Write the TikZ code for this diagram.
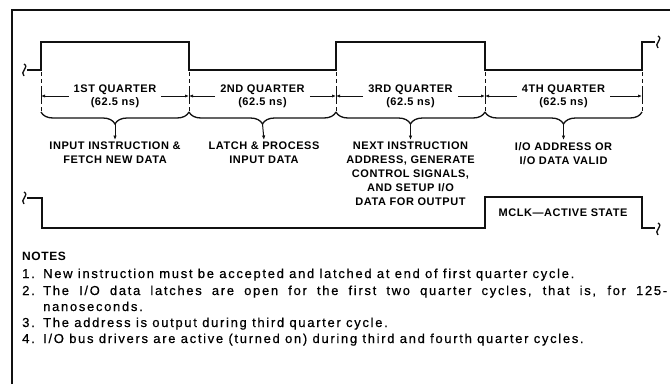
\documentclass[tikz,border=0pt]{standalone}
\usepackage{fontspec}
\setmainfont{Liberation Sans}
\newfontfamily\capfont[LetterSpace=5]{Liberation Sans}
\newfontfamily\notefont[LetterSpace=13,FakeBold=0.5]{Liberation Sans}
\usepackage{tikz}
\usetikzlibrary{arrows.meta,positioning,decorations.pathreplacing}
\definecolor{Ink}{HTML}{111111}
\tikzset{
  frame/.style={draw=Ink,line width=1.4pt},
  wave/.style={draw=Ink,line width=2.4pt,line join=miter},
  brk/.pic={\draw[draw=Ink,line width=1.3pt] (0,-6) .. controls (6,-3) and (-5,2) .. (0,6);},
  tickline/.style={draw=Ink,line width=.8pt,dash pattern=on 4pt off 3pt},
  tickmark/.style={draw=Ink,line width=1pt},
  dimline/.style={-{Latex[length=4pt,width=3.2pt]},draw=Ink,line width=1pt},
  bracebar/.style={draw=Ink,line width=1.3pt,decorate,decoration={brace,mirror,amplitude=12pt}},
  pointer/.style={-{Latex[length=4.5pt,width=3.5pt]},draw=Ink,line width=1pt},
  qlabel/.style={font=\capfont\bfseries\fontsize{11}{13}\selectfont,align=center,inner xsep=5pt,inner ysep=1pt},
  desc/.style={font=\capfont\bfseries\fontsize{11}{14}\selectfont,align=center,inner sep=2pt,anchor=north},
  head/.style={font=\capfont\bfseries\fontsize{12}{14}\selectfont,anchor=west,inner sep=0pt},
  note/.style={font=\notefont\fontsize{13}{16}\selectfont,anchor=base west,inner sep=0pt}
}
\begin{document}
\begin{tikzpicture}[x=1pt,y=-1pt]
  \fill[white] (0,0) rectangle (670,384);
  \useasboundingbox (0,0) rectangle (670,384);
  \draw[frame] (12,384) -- (12,10) -- (670,10);

  % clock and quarter boundaries
  \draw[wave] (27,70) -- (41,70) |- (189,42) |- (336,70) |- (485,42) |- (642,70) |- (655,42);
  \pic at (24,70) {brk};
  \pic at (658,42) {brk};
  \foreach \x [count=\i from 0] in {41,189,336,485,642} {
    \draw[tickline] (\x,72) -- (\x,112);
    \draw[tickmark] (\x,89) -- (\x,104);
    \coordinate (e\i) at (\x,96);
  }

  \foreach \a/\b/\n/\t in {41/189/1/1ST,189/336/2/2ND,336/485/3/3RD,485/642/4/4TH} {
    \node[qlabel] (q\n) at ({(\a+\b)/2},96) {\t\ QUARTER\\(62.5 ns)};
    \draw[dimline] (q\n.west) -- (q\n.west -| e\the\numexpr\n-1\relax);
    \draw[dimline] (q\n.east) -- (q\n.east -| e\n);
    \draw[bracebar] (\a,112) -- (\b,112);
    \coordinate (b\n) at ({(\a+\b)/2},124);
  }

  \node[desc] (d1) at (115,140) {INPUT INSTRUCTION \&\\FETCH NEW DATA};
  \node[desc] (d2) at (264,140) {LATCH \& PROCESS\\INPUT DATA};
  \node[desc] (d3) at (410.5,140) {NEXT INSTRUCTION\\ADDRESS, GENERATE\\CONTROL SIGNALS,\\AND SETUP I/O\\DATA FOR OUTPUT};
  \node[desc] (d4) at (563.5,140) {I/O ADDRESS OR\\I/O DATA VALID};
  \foreach \n in {1,...,4} \draw[pointer] (b\n) -- (d\n.north);

  % MCLK
  \draw[wave] (27,198) -- (42,198) |- (485,228) |- (642,197) |- (655,228);
  \pic at (24,198) {brk};
  \pic at (658,229) {brk};
  \node[font=\capfont\bfseries\fontsize{11}{13}\selectfont] (mclk) at (563,213) {MCLK—ACTIVE STATE};

  % notes
  \node[head] (hdr) at (22,256) {NOTES};
  \node[note] (n1) at (22,278) {\makebox[21pt][l]{1.}New instruction must be accepted and latched at end of first quarter cycle.};
  \node[note] (n2) at (22,295) {\makebox[21pt][l]{2.}\parbox[t]{630pt}{\makebox[624pt][s]{The I/O data latches are open for the first two quarter cycles, that is, for 125-}\\nanoseconds.}};
  \node[note] (n3) at (22,327) {\makebox[21pt][l]{3.}The address is output during third quarter cycle.};
  \node[note] (n4) at (22,343) {\makebox[21pt][l]{4.}I/O bus drivers are active (turned on) during third and fourth quarter cycles.};
\end{tikzpicture}
\end{document}
